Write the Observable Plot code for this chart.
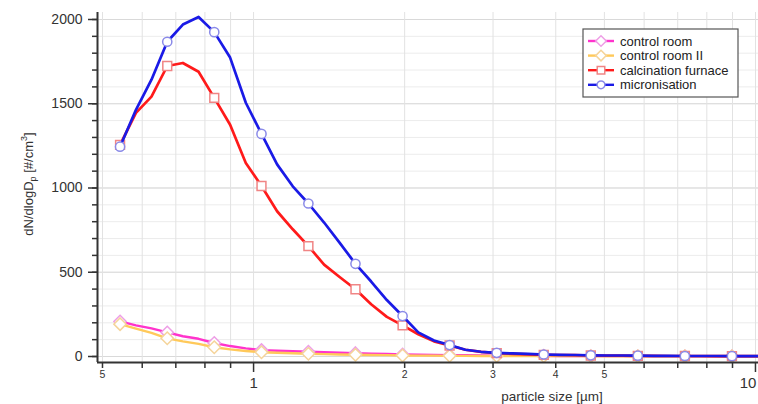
<!DOCTYPE html>
<html>
<head>
<meta charset="utf-8">
<script src="https://cdn.jsdelivr.net/npm/d3@7"></script>
<script src="https://cdn.jsdelivr.net/npm/@observablehq/plot@0.6"></script>
<style>
  html, body { margin: 0; padding: 0; background: #fff; }
  #chart { width: 758px; height: 404px; overflow: hidden; }
</style>
</head>
<body>
<div id="chart"></div>
<script>
// ---- data (APS channel midpoints, µm) ----
const sizes = [0.542, 0.583, 0.626, 0.673, 0.723, 0.777, 0.835, 0.898, 0.965, 1.037,
  1.114, 1.197, 1.286, 1.382, 1.486, 1.596, 1.715, 1.843, 1.981, 2.129,
  2.288, 2.458, 2.642, 2.839, 3.051, 3.278, 3.523, 3.786, 4.068, 4.371,
  4.698, 5.048, 5.425, 5.829, 6.264, 6.732, 7.234, 7.774, 8.354, 8.977,
  9.647, 10.37];

const controlRoom = [208, 185, 167, 143, 120, 105, 80, 62, 48, 38,
  34, 31, 28, 25, 22, 20, 17, 15, 12, 10,
  9, 8, 7, 6, 5, 5, 4, 4, 3, 3,
  3, 2, 2, 2, 2, 2, 1, 1, 1, 1, 1, 1];

const controlRoomII = [192, 165, 140, 108, 90, 75, 55, 42, 33, 25,
  22, 19, 16, 14, 12, 10, 9, 8, 6, 5,
  5, 4, 4, 3, 3, 3, 2, 2, 2, 2,
  2, 1, 1, 1, 1, 1, 1, 1, 1, 1, 1, 1];

const calcinationFurnace = [1256, 1446, 1542, 1724, 1742, 1690, 1535, 1375, 1149, 1012,
  862, 755, 655, 545, 470, 399, 310, 235, 185, 132,
  90, 65, 40, 27, 20, 16, 13, 10, 9, 8,
  6, 5, 5, 4, 4, 3, 3, 3, 2, 2, 2, 2];

const micronisation = [1245, 1464, 1643, 1868, 1970, 2015, 1925, 1774, 1506, 1321,
  1140, 1010, 908, 795, 673, 550, 445, 335, 240, 143,
  95, 68, 40, 28, 22, 18, 15, 12, 10, 9,
  7, 6, 6, 5, 4, 4, 3, 3, 3, 2, 2, 2];

const seriesNames = ["control room", "control room II", "calcination furnace", "micronisation"];
const lineColors = ["#ff33cc", "#ffc95a", "#ff1a1a", "#1a1ae6"];
const markerColors = ["#ee9fe6", "#f5d49a", "#f08585", "#8a8ae8"];
const markerSymbols = ["diamond2", "diamond2", "square", "circle"];
const markerRadii = [5.6, 5.6, 5, 4.6];

const xDomain = [0.4887, 10.14];
const yDomain = [-35.6, 2041.5];
const xMinorTicks = [0.5, 0.6, 0.7, 0.8, 0.9, 2, 3, 4, 5, 6, 7, 8, 9];
const xMajorTicks = [1, 10];
const xGridTicks = [0.5, 0.6, 0.7, 0.8, 0.9, 1, 2, 3, 4, 5, 6, 7, 8, 9, 10];
const yMajorTicks = [0, 500, 1000, 1500, 2000];
const yMinorTicks = d3.range(0, 2001, 100);

const allValues = [controlRoom, controlRoomII, calcinationFurnace, micronisation];

const seriesData = allValues.map((vals, k) =>
  vals.map((v, i) => ({size: sizes[i], value: v, series: seriesNames[k]})));
const markerData = seriesData.map(arr => arr.filter((d, i) => i % 3 === 0));

const seriesMarks = seriesData.flatMap((arr, k) => [
  Plot.line(arr, {x: "size", y: "value", stroke: lineColors[k], strokeWidth: k < 2 ? 2.4 : 2.7, clip: true}),
  Plot.dot(markerData[k], {x: "size", y: "value", symbol: markerSymbols[k], r: markerRadii[k],
    stroke: markerColors[k], strokeWidth: 1.5, fill: "white", clip: true})
]);

const chart = Plot.plot({
  width: 758,
  height: 404,
  marginLeft: 97,
  marginRight: 0,
  marginTop: 12,
  marginBottom: 42,
  style: {fontFamily: "'Liberation Sans', Arial, sans-serif", color: "#333", background: "white", overflow: "hidden"},
  x: {type: "log", domain: xDomain, label: null},
  y: {domain: yDomain, label: null},
  marks: [
    Plot.gridY(yMinorTicks, {stroke: "#ececec", strokeOpacity: 1}),
    Plot.gridY(yMajorTicks, {stroke: "#d9d9d9", strokeOpacity: 1}),
    Plot.gridX(xGridTicks, {stroke: "#e2e2e2", strokeOpacity: 1}),
    Plot.axisY(yMinorTicks, {tickSize: 5, strokeWidth: 1.5, stroke: "#333", tickFormat: () => "", label: null}),
    Plot.axisY(yMajorTicks, {tickSize: 9, strokeWidth: 1.5, stroke: "#333", tickPadding: 6, fontSize: 14,
      tickFormat: d => String(d), label: null}),
    Plot.axisX(xMinorTicks, {tickSize: 6, strokeWidth: 1.5, stroke: "#333", tickPadding: 2, fontSize: 10.5,
      tickFormat: d => d < 1 ? String(Math.round(d * 10)) : String(d), label: null}),
    Plot.axisX(xMajorTicks, {tickSize: 10, strokeWidth: 1.5, stroke: "#333", tickPadding: 5, fontSize: 15,
      tickFormat: d => String(d), label: null}),
    ...seriesMarks,
    Plot.ruleX([xDomain[0]], {stroke: "#333", strokeWidth: 2}),
    Plot.ruleY([yDomain[0]], {stroke: "#333", strokeWidth: 2})
  ]
});

document.getElementById("chart").appendChild(chart);

const svg = d3.select(chart);
const font = "'Liberation Sans', Arial, sans-serif";

// keep the "10" label inside the picture
svg.selectAll("text").filter(function () { return this.textContent === "10"; })
  .attr("text-anchor", "end").attr("dx", 1);

// ---- axis titles and legend ----
const ylab = svg.append("text")
  .attr("transform", "translate(33,184) rotate(-90)")
  .attr("text-anchor", "middle")
  .attr("font-family", font)
  .attr("font-size", 13)
  .attr("fill", "#333");
ylab.append("tspan").text("dN/dlogD");
ylab.append("tspan").attr("dy", 3).attr("font-size", 9).text("p");
ylab.append("tspan").attr("dy", -3).text(" [#/cm");
ylab.append("tspan").attr("dy", -6).attr("font-size", 9).text("3");
ylab.append("tspan").attr("dy", 6).text("]");

svg.append("text")
  .attr("x", 552).attr("y", 401)
  .attr("text-anchor", "middle")
  .attr("font-family", font)
  .attr("font-size", 13.5)
  .attr("fill", "#333")
  .text("particle size [\u00b5m]");

const lg = svg.append("g").attr("text-anchor", "start");
lg.append("rect")
  .attr("x", 583).attr("y", 29).attr("width", 155).attr("height", 68)
  .attr("fill", "white").attr("stroke", "#555").attr("stroke-width", 1.2);

const symMap = {circle: d3.symbolCircle, square: d3.symbolSquare, diamond2: d3.symbolDiamond2};
seriesNames.forEach((name, k) => {
  const cy = 41 + k * 14.6;
  lg.append("line").attr("x1", 588).attr("x2", 614).attr("y1", cy).attr("y2", cy)
    .attr("stroke", lineColors[k]).attr("stroke-width", 2.4);
  const r = markerRadii[k] * 0.85;
  lg.append("path")
    .attr("d", d3.symbol(symMap[markerSymbols[k]], Math.PI * r * r)())
    .attr("transform", `translate(601,${cy})`)
    .attr("fill", "white").attr("stroke", markerColors[k]).attr("stroke-width", 1.5);
  lg.append("text").attr("x", 620).attr("y", cy).attr("dy", "0.35em")
    .attr("text-anchor", "start")
    .attr("font-family", font).attr("font-size", 13).attr("fill", "#222")
    .text(name);
});
</script>
</body>
</html>
